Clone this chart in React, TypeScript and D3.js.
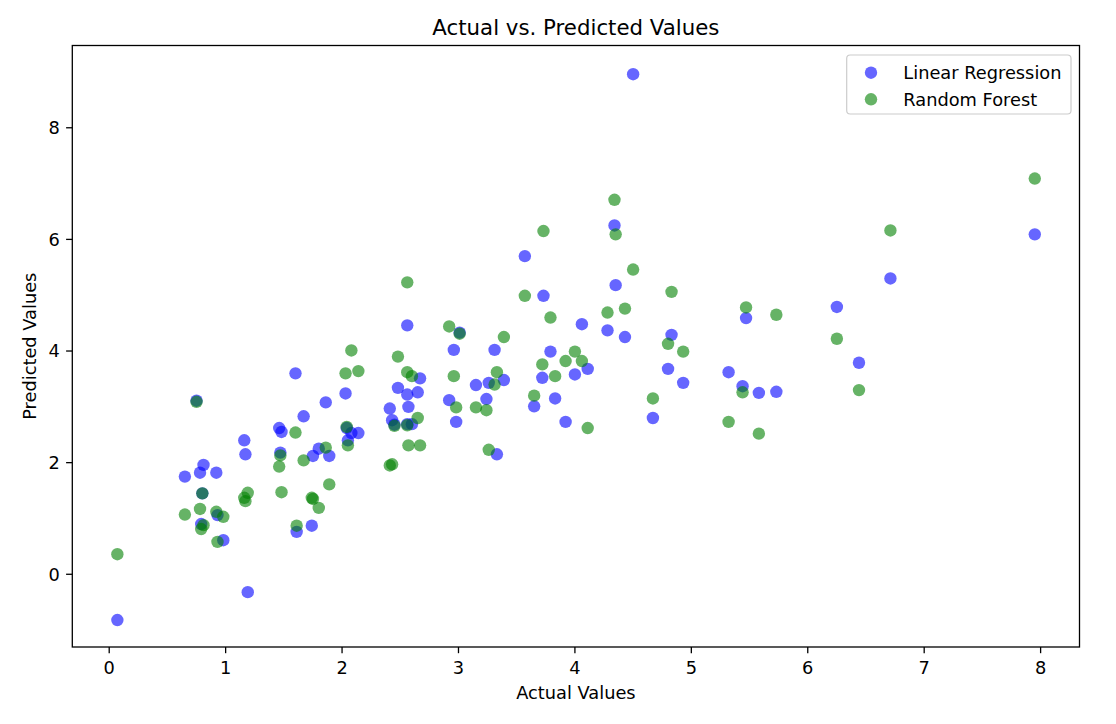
import React from 'react';
import * as d3 from 'd3';

// actual target values (shared by both models)
const actualValues = [
  0.07, 0.65, 0.75, 0.78, 0.79, 0.8, 0.81, 0.92, 0.93, 0.98,
  1.16, 1.17, 1.19, 1.46, 1.47, 1.48, 1.6, 1.61, 1.67, 1.74,
  1.75, 1.8, 1.86, 1.89, 2.03, 2.04, 2.05, 2.08, 2.14, 2.41,
  2.43, 2.45, 2.48, 2.56, 2.56, 2.57, 2.56, 2.6, 2.65, 2.67,
  2.92, 2.96, 2.98, 3.01, 3.15, 3.24, 3.26, 3.31, 3.33, 3.39,
  3.57, 3.65, 3.72, 3.73, 3.79, 3.83, 3.92, 4.0, 4.06, 4.11,
  4.28, 4.34, 4.35, 4.43, 4.5, 4.67, 4.8, 4.83, 4.93, 5.32,
  5.44, 5.47, 5.58, 5.73, 6.25, 6.44, 6.71, 7.95,
];

const linearPred = [
  -0.82, 1.75, 3.11, 1.82, 0.9, 1.45, 1.96, 1.82, 1.06, 0.61,
  2.4, 2.15, -0.32, 2.62, 2.18, 2.55, 3.6, 0.76, 2.83, 0.87,
  2.12, 2.25, 3.08, 2.12, 3.24, 2.62, 2.4, 2.53, 2.53, 2.97,
  2.76, 2.68, 3.34, 4.46, 3.22, 3.0, 2.69, 2.69, 3.26, 3.51,
  3.12, 4.02, 2.73, 4.33, 3.39, 3.14, 3.43, 4.02, 2.15, 3.48,
  5.7, 3.01, 3.52, 4.99, 3.99, 3.15, 2.73, 3.58, 4.48, 3.68,
  4.37, 6.25, 5.18, 4.25, 8.96, 2.8, 3.68, 4.29, 3.43, 3.62,
  3.37, 4.59, 3.25, 3.27, 4.79, 3.79, 5.3, 6.09,
];

const forestPred = [
  0.36, 1.07, 3.09, 1.17, 0.81, 1.45, 0.88, 1.12, 0.58, 1.03,
  1.37, 1.31, 1.46, 1.93, 2.13, 1.47, 2.54, 0.87, 2.04, 1.37,
  1.35, 1.19, 2.27, 1.61, 3.6, 2.64, 2.31, 4.01, 3.64, 1.95,
  1.97, 2.66, 3.9, 5.23, 3.62, 2.31, 2.67, 3.55, 2.8, 2.31,
  4.44, 3.55, 2.99, 4.31, 2.99, 2.94, 2.23, 3.4, 3.62, 4.25,
  4.99, 3.2, 3.76, 6.15, 4.6, 3.55, 3.82, 3.99, 3.82, 2.62,
  4.69, 6.71, 6.09, 4.76, 5.46, 3.15, 4.13, 5.06, 3.99, 2.73,
  3.26, 4.78, 2.52, 4.65, 4.22, 3.3, 6.16, 7.09,
];

const xTicks = [0, 1, 2, 3, 4, 5, 6, 7, 8];
const yTicks = [0, 2, 4, 6, 8];

const seriesNames = ['Linear Regression', 'Random Forest'];
const seriesColors = ['blue', 'green'];

const W = 1116;
const H = 724;
const margin = { left: 72.3, right: 1079.5, top: 45.5, bottom: 647 };
const font = 'DejaVu Sans, sans-serif';

export default function App() {
  const x = d3.scaleLinear().domain([-0.317, 8.334]).range([margin.left, margin.right]);
  const y = d3.scaleLinear().domain([-1.303, 9.474]).range([margin.bottom, margin.top]);

  const series = [linearPred, forestPred];

  return (
    <svg
      width={W}
      height={H}
      style={{ position: 'absolute', left: 0, top: 0, background: '#fff' }}
      fontFamily={font}
    >
      <rect x={0} y={0} width={W} height={H} fill="#fff" />

      {/* points */}
      {series.map((vals, si) => (
        <g key={si}>
          {vals.map((v, i) => (
            <circle
              key={i}
              cx={x(actualValues[i])}
              cy={y(v)}
              r={6.2}
              fill={seriesColors[si]}
              fillOpacity={0.6}
              stroke={seriesColors[si]}
              strokeOpacity={0.6}
              strokeWidth={0}
            />
          ))}
        </g>
      ))}

      {/* frame */}
      <rect
        x={margin.left}
        y={margin.top}
        width={margin.right - margin.left}
        height={margin.bottom - margin.top}
        fill="none"
        stroke="#000"
        strokeWidth={1.3}
      />

      {/* x ticks */}
      {xTicks.map((t) => (
        <g key={t} transform={`translate(${x(t)},${margin.bottom})`}>
          <line y1={0} y2={6.2} stroke="#000" strokeWidth={1.3} />
          <text y={27} textAnchor="middle" fontSize={17.8} fill="#000">
            {t}
          </text>
        </g>
      ))}

      {/* y ticks */}
      {yTicks.map((t) => (
        <g key={t} transform={`translate(${margin.left},${y(t)})`}>
          <line x1={0} x2={-6.2} stroke="#000" strokeWidth={1.3} />
          <text x={-12.5} dy="0.36em" textAnchor="end" fontSize={17.8} fill="#000">
            {t}
          </text>
        </g>
      ))}

      {/* labels */}
      <text x={(margin.left + margin.right) / 2} y={35} textAnchor="middle" fontSize={21.3} fill="#000">
        Actual vs. Predicted Values
      </text>
      <text x={(margin.left + margin.right) / 2} y={699} textAnchor="middle" fontSize={17.8} fill="#000">
        Actual Values
      </text>
      <text
        transform={`translate(36,${(margin.top + margin.bottom) / 2}) rotate(-90)`}
        textAnchor="middle"
        fontSize={17.8}
        fill="#000"
      >
        Predicted Values
      </text>

      {/* legend */}
      <g>
        <rect
          x={846.7}
          y={55}
          width={224.3}
          height={59}
          rx={3.5}
          fill="#fff"
          fillOpacity={0.8}
          stroke="#cccccc"
          strokeWidth={1.2}
        />
        {seriesNames.map((name, i) => (
          <g key={name} transform={`translate(871,${72.7 + i * 26.6})`}>
            <circle r={6.2} fill={seriesColors[i]} fillOpacity={0.6} />
            <text x={32.3} dy="0.36em" fontSize={17.8} fill="#000">
              {name}
            </text>
          </g>
        ))}
      </g>
    </svg>
  );
}
